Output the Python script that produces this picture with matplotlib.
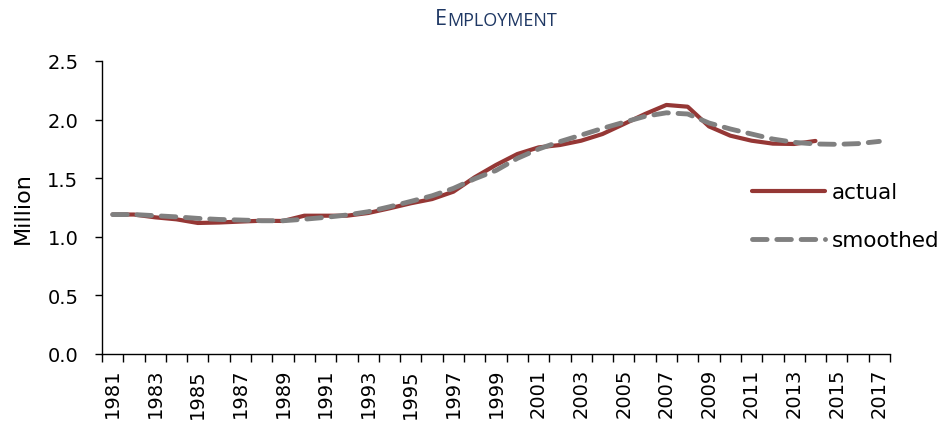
import matplotlib
matplotlib.use("Agg")
import matplotlib.pyplot as plt
import numpy as np

years = list(range(1981, 2018))
actual = [1.19, 1.19, 1.166, 1.149, 1.118, 1.122, 1.13, 1.137, 1.135, 1.18,
          1.18, 1.18, 1.203, 1.243, 1.286, 1.322, 1.385, 1.508, 1.613, 1.706,
          1.763, 1.783, 1.82, 1.877, 1.962, 2.048, 2.125, 2.11, 1.942, 1.863,
          1.82, 1.795, 1.792, 1.818]
smoothed = [1.19, 1.19, 1.18, 1.17, 1.157, 1.148, 1.143, 1.137, 1.137, 1.15,
            1.166, 1.186, 1.214, 1.256, 1.302, 1.35, 1.413, 1.495, 1.566, 1.669,
            1.749, 1.812, 1.868, 1.925, 1.977, 2.028, 2.058, 2.048, 1.971, 1.92,
            1.877, 1.834, 1.806, 1.792, 1.789, 1.795, 1.814]
yticks = [0.0, 0.5, 1.0, 1.5, 2.0, 2.5]

W, H = 943, 431
fig = plt.figure(figsize=(W/100, H/100), dpi=100)
ax = fig.add_axes([102/W, (H-355)/H, (890-102)/W, (355-62)/H])

n = len(years)
xa = np.arange(len(actual))
xs = np.arange(len(smoothed))
la, = ax.plot(xa, actual, color="#953735", lw=3.0, solid_capstyle="round",
              solid_joinstyle="round", label="actual")
ls, = ax.plot(xs, smoothed, color="#808080", lw=3.5, dashes=(3.0, 2.0),
              dash_capstyle="round", label="smoothed")

ax.set_xlim(-0.5, n-0.5)
ax.set_ylim(0, 2.5)
ax.set_yticks(yticks)
ax.set_yticklabels([f"{v:.1f}" for v in yticks], family="DejaVu Sans", fontsize=14)
ax.set_xticks(np.arange(0, n, 2))
ax.set_xticklabels([str(y) for y in years[::2]], rotation=90, family="DejaVu Sans", fontsize=14)
ax.tick_params(axis="x", which="major", length=0, pad=10)
ax.set_xticks(np.arange(-0.5, n, 1), minor=True)
ax.tick_params(axis="x", which="minor", length=6, width=1, direction="out")
ax.tick_params(axis="y", length=5, width=1, direction="out", pad=12)
for s in ["top", "right"]:
    ax.spines[s].set_visible(False)
for s in ["left", "bottom"]:
    ax.spines[s].set_linewidth(1)
ax.set_ylabel("Million", family="DejaVu Sans", fontsize=16, labelpad=10)

leg = ax.legend(handles=[la, ls], loc="center left", bbox_to_anchor=(0.80, 0.47),
                frameon=False, prop={"family": "DejaVu Sans", "size": 15.5},
                handlelength=3.4, handletextpad=0.3, labelspacing=1.3)

t1 = fig.text(435/W, 1 - 25/H, "E", family="Open Sans", fontsize=15.5, color="#1F3864",
              ha="left", va="baseline")
ax.annotate("MPLOYMENT", xy=(1, 0), xycoords=t1, family="Open Sans", fontsize=13,
            color="#1F3864", ha="left", va="bottom")

fig.savefig("out.png", dpi=100)
